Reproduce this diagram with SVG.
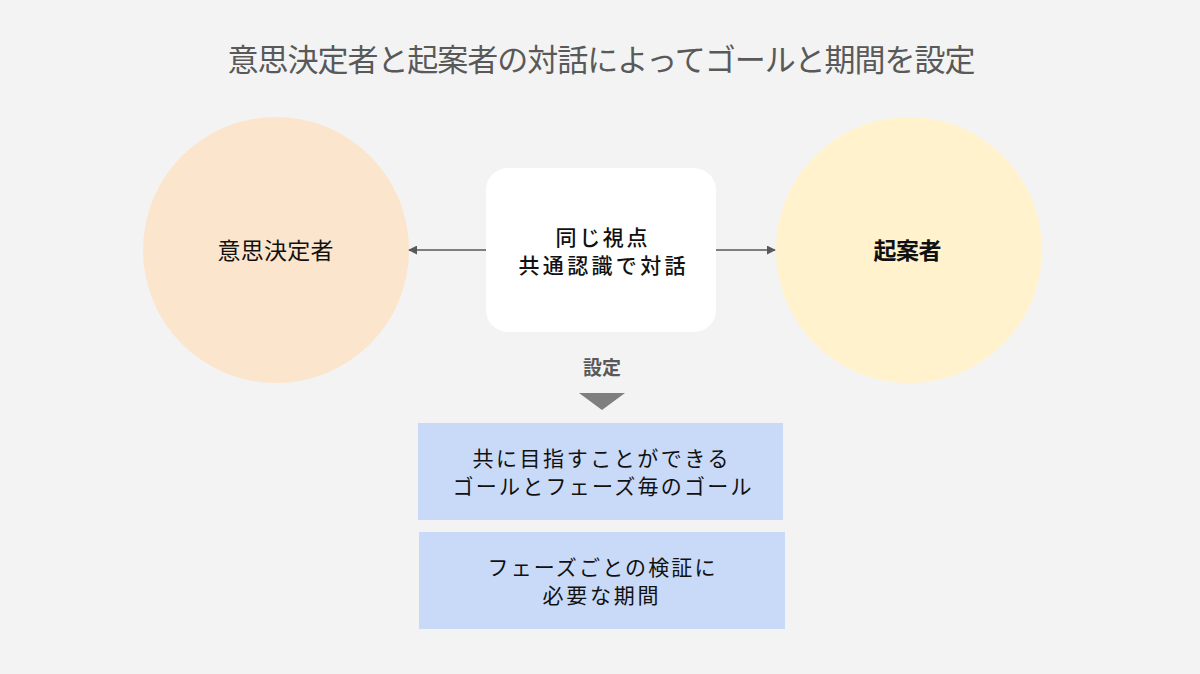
<svg xmlns="http://www.w3.org/2000/svg" width="1200" height="674" viewBox="0 0 1200 674">
<defs>
<style>
text{font-family:"Noto Sans CJK JP","Noto Sans",sans-serif;text-anchor:middle;}
.t{font-size:21px;fill:#111;}
.c{font-size:23px;fill:#111;}
.conn{stroke:#595959;stroke-width:1.5;fill:none;}
</style>
<marker id="ah" viewBox="0 0 10 10" refX="9" refY="5" markerWidth="9" markerHeight="9" markerUnits="userSpaceOnUse" orient="auto"><path d="M0,0 L10,5 L0,10 z" fill="#595959"/></marker>
</defs>
<rect width="1200" height="674" fill="#f3f3f3"/>
<text x="601.5" y="71" font-size="31" fill="#595959" textLength="748" lengthAdjust="spacing">意思決定者と起案者の対話によってゴールと期間を設定</text>
<g id="decision-maker"><circle cx="276" cy="250" r="133" fill="#fce5cd"/><text class="c" x="275.5" y="259" textLength="116" lengthAdjust="spacing">意思決定者</text></g>
<g id="proposer"><circle cx="909" cy="250" r="133" fill="#fff2cc"/><text class="c" x="907.5" y="259" font-weight="bold" textLength="68" lengthAdjust="spacing">起案者</text></g>
<g id="dialogue"><rect x="486" y="168" width="230" height="164" rx="22" fill="#ffffff"/><text class="t" x="601.5" y="245" font-weight="500" textLength="92" lengthAdjust="spacing">同じ視点</text><text class="t" x="602" y="273" font-weight="500" textLength="167" lengthAdjust="spacing">共通認識で対話</text></g>
<g id="connectors">
<line class="conn" x1="486" y1="250" x2="409" y2="250" marker-end="url(#ah)"/>
<line class="conn" x1="716" y1="250" x2="775" y2="250" marker-end="url(#ah)"/>
<polygon points="579,393 625,393 602,410" fill="#7f7f7f"/>
</g>
<g id="set-label"><text x="602" y="375" font-size="19" font-weight="bold" fill="#595959">設定</text></g>
<g id="goal"><rect x="418" y="423" width="365" height="97" fill="#c9daf8"/><text class="t" x="600.5" y="466" textLength="256" lengthAdjust="spacing">共に目指すことができる</text><text class="t" x="602" y="494" textLength="299" lengthAdjust="spacing">ゴールとフェーズ毎のゴール</text></g>
<g id="period"><rect x="419" y="532" width="366" height="97" fill="#c9daf8"/><text class="t" x="601.5" y="575" textLength="228" lengthAdjust="spacing">フェーズごとの検証に</text><text class="t" x="600.5" y="603" textLength="116" lengthAdjust="spacing">必要な期間</text></g>
</svg>
